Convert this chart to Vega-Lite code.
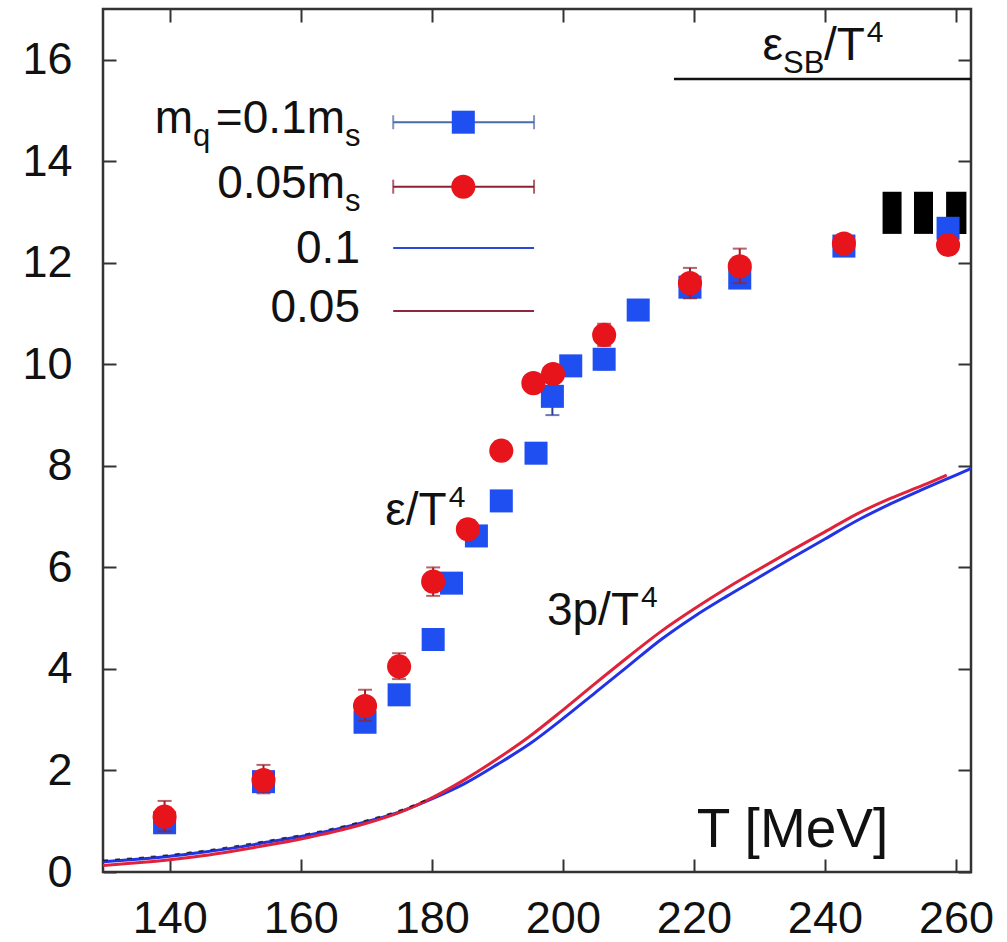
{
  "$schema": "https://vega.github.io/schema/vega-lite/v6.json",
  "width": 868,
  "height": 863,
  "autosize": {"type": "none"},
  "padding": {"left": 103, "top": 9, "right": 36, "bottom": 70},
  "background": "white",
  "config": {
    "view": {"stroke": "#333333", "strokeWidth": 2.5},
    "axis": {"domain": false, "grid": false, "tickColor": "#333333", "tickWidth": 2, "labelFont": "Liberation Sans", "labelFontSize": 45, "labelColor": "#111111", "labelFlush": false, "labelOverlap": false, "labelBound": false, "title": null},
    "text": {"font": "Liberation Sans", "color": "#111111"}
  },
  "datasets": {
    "pts": [
      {"T": 139.2, "v": 0.97, "lo": 0.87, "hi": 1.07, "s": "b"},
      {"T": 154.3, "v": 1.78, "lo": 1.66, "hi": 1.90, "s": "b"},
      {"T": 169.8, "v": 2.95, "lo": 2.80, "hi": 3.10, "s": "b"},
      {"T": 175.0, "v": 3.49, "lo": 3.39, "hi": 3.59, "s": "b"},
      {"T": 180.2, "v": 4.58, "lo": 4.50, "hi": 4.66, "s": "b"},
      {"T": 183.0, "v": 5.69, "lo": 5.61, "hi": 5.77, "s": "b"},
      {"T": 186.8, "v": 6.62, "lo": 6.52, "hi": 6.72, "s": "b"},
      {"T": 190.6, "v": 7.31, "lo": 7.23, "hi": 7.39, "s": "b"},
      {"T": 195.9, "v": 8.25, "lo": 8.17, "hi": 8.33, "s": "b"},
      {"T": 198.4, "v": 9.37, "lo": 9.00, "hi": 9.74, "s": "b"},
      {"T": 201.2, "v": 9.97, "lo": 9.87, "hi": 10.07, "s": "b"},
      {"T": 206.3, "v": 10.10, "lo": 9.90, "hi": 10.30, "s": "b"},
      {"T": 211.5, "v": 11.07, "lo": 10.97, "hi": 11.17, "s": "b"},
      {"T": 219.4, "v": 11.52, "lo": 11.32, "hi": 11.72, "s": "b"},
      {"T": 227.0, "v": 11.70, "lo": 11.55, "hi": 11.85, "s": "b"},
      {"T": 242.9, "v": 12.33, "lo": 12.18, "hi": 12.48, "s": "b"},
      {"T": 258.8, "v": 12.68, "lo": 12.48, "hi": 12.88, "s": "b"},
      {"T": 139.2, "v": 1.09, "lo": 0.80, "hi": 1.40, "s": "r"},
      {"T": 154.3, "v": 1.81, "lo": 1.55, "hi": 2.11, "s": "r"},
      {"T": 169.8, "v": 3.27, "lo": 2.98, "hi": 3.59, "s": "r"},
      {"T": 175.0, "v": 4.05, "lo": 3.80, "hi": 4.31, "s": "r"},
      {"T": 180.2, "v": 5.72, "lo": 5.44, "hi": 6.00, "s": "r"},
      {"T": 185.5, "v": 6.75, "lo": 6.57, "hi": 6.93, "s": "r"},
      {"T": 190.6, "v": 8.30, "lo": 8.20, "hi": 8.40, "s": "r"},
      {"T": 195.5, "v": 9.63, "lo": 9.53, "hi": 9.73, "s": "r"},
      {"T": 198.5, "v": 9.81, "lo": 9.71, "hi": 9.91, "s": "r"},
      {"T": 206.3, "v": 10.58, "lo": 10.36, "hi": 10.80, "s": "r"},
      {"T": 219.4, "v": 11.60, "lo": 11.30, "hi": 11.90, "s": "r"},
      {"T": 227.0, "v": 11.93, "lo": 11.60, "hi": 12.28, "s": "r"},
      {"T": 242.9, "v": 12.38, "lo": 12.28, "hi": 12.48, "s": "r"},
      {"T": 258.8, "v": 12.35, "lo": 12.25, "hi": 12.45, "s": "r"}
    ],
    "curves": [
      {"T": 129.8, "v": 0.20, "s": "b"}, {"T": 135, "v": 0.25, "s": "b"}, {"T": 140, "v": 0.31, "s": "b"},
      {"T": 145, "v": 0.39, "s": "b"}, {"T": 150, "v": 0.48, "s": "b"}, {"T": 155, "v": 0.59, "s": "b"},
      {"T": 160, "v": 0.70, "s": "b"}, {"T": 165, "v": 0.83, "s": "b"}, {"T": 170, "v": 0.99, "s": "b"},
      {"T": 175, "v": 1.18, "s": "b"}, {"T": 180, "v": 1.44, "s": "b"}, {"T": 185, "v": 1.74, "s": "b"},
      {"T": 190, "v": 2.12, "s": "b"}, {"T": 195, "v": 2.53, "s": "b"}, {"T": 200, "v": 3.02, "s": "b"},
      {"T": 205, "v": 3.54, "s": "b"}, {"T": 210, "v": 4.06, "s": "b"}, {"T": 215, "v": 4.58, "s": "b"},
      {"T": 220, "v": 5.03, "s": "b"}, {"T": 225, "v": 5.43, "s": "b"}, {"T": 230, "v": 5.81, "s": "b"},
      {"T": 235, "v": 6.19, "s": "b"}, {"T": 240, "v": 6.56, "s": "b"}, {"T": 245, "v": 6.93, "s": "b"},
      {"T": 250, "v": 7.25, "s": "b"}, {"T": 255, "v": 7.54, "s": "b"}, {"T": 260, "v": 7.82, "s": "b"},
      {"T": 262.3, "v": 7.95, "s": "b"},
      {"T": 129.8, "v": 0.13, "s": "r"}, {"T": 135, "v": 0.18, "s": "r"}, {"T": 140, "v": 0.24, "s": "r"},
      {"T": 145, "v": 0.32, "s": "r"}, {"T": 150, "v": 0.42, "s": "r"}, {"T": 155, "v": 0.53, "s": "r"},
      {"T": 160, "v": 0.65, "s": "r"}, {"T": 165, "v": 0.79, "s": "r"}, {"T": 170, "v": 0.96, "s": "r"},
      {"T": 175, "v": 1.17, "s": "r"}, {"T": 180, "v": 1.46, "s": "r"}, {"T": 185, "v": 1.82, "s": "r"},
      {"T": 190, "v": 2.23, "s": "r"}, {"T": 195, "v": 2.68, "s": "r"}, {"T": 200, "v": 3.19, "s": "r"},
      {"T": 205, "v": 3.72, "s": "r"}, {"T": 210, "v": 4.24, "s": "r"}, {"T": 215, "v": 4.74, "s": "r"},
      {"T": 220, "v": 5.18, "s": "r"}, {"T": 225, "v": 5.59, "s": "r"}, {"T": 230, "v": 5.97, "s": "r"},
      {"T": 235, "v": 6.34, "s": "r"}, {"T": 240, "v": 6.70, "s": "r"}, {"T": 245, "v": 7.06, "s": "r"},
      {"T": 250, "v": 7.36, "s": "r"}, {"T": 255, "v": 7.62, "s": "r"}, {"T": 258.6, "v": 7.82, "s": "r"},
      {"T": 129.8, "v": 0.23, "s": "k"}, {"T": 135, "v": 0.28, "s": "k"}, {"T": 140, "v": 0.34, "s": "k"},
      {"T": 145, "v": 0.42, "s": "k"}, {"T": 150, "v": 0.51, "s": "k"}, {"T": 155, "v": 0.62, "s": "k"},
      {"T": 160, "v": 0.73, "s": "k"}, {"T": 165, "v": 0.86, "s": "k"}, {"T": 170, "v": 1.02, "s": "k"},
      {"T": 175, "v": 1.21, "s": "k"}, {"T": 180, "v": 1.47, "s": "k"}
    ],
    "bars": [
      {"T": 248.8, "T2": 251.7, "v": 12.57, "v2": 13.40},
      {"T": 253.6, "T2": 256.5, "v": 12.57, "v2": 13.40},
      {"T": 258.5, "T2": 261.6, "v": 12.57, "v2": 13.40}
    ],
    "sb": [{"T": 216.96, "T2": 262.3, "v": 15.62}],
    "legline": [
      {"T": 174.1, "T2": 195.6, "v": 14.77, "s": "b"},
      {"T": 174.1, "T2": 195.6, "v": 13.50, "s": "r"},
      {"T": 174.1, "T2": 195.6, "v": 12.29, "s": "bl"},
      {"T": 174.1, "T2": 195.6, "v": 11.05, "s": "rl"}
    ],
    "legcap": [
      {"T": 174.1, "v": 14.77, "s": "b"}, {"T": 195.6, "v": 14.77, "s": "b"},
      {"T": 174.1, "v": 13.50, "s": "r"}, {"T": 195.6, "v": 13.50, "s": "r"}
    ],
    "legsym": [
      {"T": 184.8, "v": 14.77, "s": "b"},
      {"T": 184.8, "v": 13.50, "s": "r"}
    ],
    "textMain": [
      {"T": 143.54, "v": 14.55, "t": "m"},
      {"T": 166.74, "v": 14.55, "t": "=0.1m"},
      {"T": 166.74, "v": 13.27, "t": "0.05m"},
      {"T": 169.03, "v": 11.99, "t": "0.1"},
      {"T": 169.03, "v": 10.84, "t": "0.05"},
      {"T": 182.27, "v": 6.84, "t": "ε/T"},
      {"T": 211.62, "v": 4.866, "t": "3p/T"},
      {"T": 233.6, "v": 16.0, "t": "ε"},
      {"T": 246.1, "v": 16.0, "t": "/T"}
    ],
    "textSub": [
      {"T": 143.54, "v": 14.55, "t": "q"},
      {"T": 166.74, "v": 14.55, "t": "s"},
      {"T": 166.74, "v": 13.27, "t": "s"},
      {"T": 233.6, "v": 16.0, "t": "SB"}
    ],
    "textSup": [
      {"T": 182.27, "v": 6.84, "t": "4"},
      {"T": 211.62, "v": 4.866, "t": "4"},
      {"T": 246.1, "v": 16.0, "t": "4"}
    ],
    "textAxis": [{"T": 220.43, "v": 0.50, "t": "T [MeV]"}]
  },
  "resolve": {"axis": {"x": "independent", "y": "independent"}},
  "layer": [
    {
      "data": {"name": "bars"},
      "mark": {"type": "rect", "color": "#000000"},
      "encoding": {
        "x": {"field": "T", "type": "quantitative", "scale": {"domain": [129.8, 262.3], "nice": false, "zero": false},
              "axis": {"orient": "bottom", "values": [140, 160, 180, 200, 220, 240, 260], "tickSize": -13, "labelPadding": 37}},
        "x2": {"field": "T2"},
        "y": {"field": "v", "type": "quantitative", "scale": {"domain": [0, 17], "nice": false, "zero": false},
              "axis": {"orient": "left", "values": [0, 2, 4, 6, 8, 10, 12, 14, 16], "tickSize": -13, "labelPadding": 44}},
        "y2": {"field": "v2"}
      }
    },
    {
      "data": {"name": "sb"},
      "mark": {"type": "rule", "color": "#111111", "strokeWidth": 2.5},
      "encoding": {
        "x": {"field": "T", "type": "quantitative", "scale": {"domain": [129.8, 262.3], "nice": false, "zero": false},
              "axis": {"orient": "top", "values": [140, 160, 180, 200, 220, 240, 260], "tickSize": -13, "labels": false}},
        "x2": {"field": "T2"},
        "y": {"field": "v", "type": "quantitative", "scale": {"domain": [0, 17], "nice": false, "zero": false},
              "axis": {"orient": "right", "values": [0, 2, 4, 6, 8, 10, 12, 14, 16], "tickSize": -13, "labels": false}}
      }
    },
    {
      "data": {"name": "curves"},
      "transform": [{"filter": "datum.s === 'b'"}],
      "mark": {"type": "line", "color": "#2233e6", "strokeWidth": 3, "interpolate": "monotone"},
      "encoding": {
        "x": {"field": "T", "type": "quantitative", "scale": {"domain": [129.8, 262.3], "nice": false, "zero": false}, "axis": null},
        "y": {"field": "v", "type": "quantitative", "scale": {"domain": [0, 17], "nice": false, "zero": false}, "axis": null}
      }
    },
    {
      "data": {"name": "curves"},
      "transform": [{"filter": "datum.s === 'r'"}],
      "mark": {"type": "line", "color": "#e0233a", "strokeWidth": 3, "interpolate": "monotone"},
      "encoding": {
        "x": {"field": "T", "type": "quantitative", "scale": {"domain": [129.8, 262.3], "nice": false, "zero": false}, "axis": null},
        "y": {"field": "v", "type": "quantitative", "scale": {"domain": [0, 17], "nice": false, "zero": false}, "axis": null}
      }
    },
    {
      "data": {"name": "curves"},
      "transform": [{"filter": "datum.s === 'k'"}],
      "mark": {"type": "line", "color": "#111111", "strokeWidth": 1.5, "strokeDash": [5, 7], "opacity": 0.8, "interpolate": "monotone"},
      "encoding": {
        "x": {"field": "T", "type": "quantitative", "scale": {"domain": [129.8, 262.3], "nice": false, "zero": false}, "axis": null},
        "y": {"field": "v", "type": "quantitative", "scale": {"domain": [0, 17], "nice": false, "zero": false}, "axis": null}
      }
    },
    {
      "data": {"name": "pts"},
      "transform": [{"filter": "datum.s === 'b'"}],
      "mark": {"type": "rule", "color": "#2a3f9a", "strokeWidth": 2},
      "encoding": {
        "x": {"field": "T", "type": "quantitative", "scale": {"domain": [129.8, 262.3], "nice": false, "zero": false}, "axis": null},
        "y": {"field": "lo", "type": "quantitative", "scale": {"domain": [0, 17], "nice": false, "zero": false}, "axis": null},
        "y2": {"field": "hi"}
      }
    },
    {
      "data": {"name": "pts"},
      "transform": [{"filter": "datum.s === 'b'"}, {"fold": ["lo", "hi"], "as": ["end", "ev"]}],
      "mark": {"type": "tick", "orient": "horizontal", "color": "#2a3f9a", "size": 14, "thickness": 2},
      "encoding": {
        "x": {"field": "T", "type": "quantitative", "scale": {"domain": [129.8, 262.3], "nice": false, "zero": false}, "axis": null},
        "y": {"field": "ev", "type": "quantitative", "scale": {"domain": [0, 17], "nice": false, "zero": false}, "axis": null}
      }
    },
    {
      "data": {"name": "pts"},
      "transform": [{"filter": "datum.s === 'b'"}],
      "mark": {"type": "point", "shape": "square", "filled": true, "color": "#1f4ff0", "size": 530, "opacity": 1},
      "encoding": {
        "x": {"field": "T", "type": "quantitative", "scale": {"domain": [129.8, 262.3], "nice": false, "zero": false}, "axis": null},
        "y": {"field": "v", "type": "quantitative", "scale": {"domain": [0, 17], "nice": false, "zero": false}, "axis": null}
      }
    },
    {
      "data": {"name": "pts"},
      "transform": [{"filter": "datum.s === 'r'"}],
      "mark": {"type": "rule", "color": "#9a1f2a", "strokeWidth": 2},
      "encoding": {
        "x": {"field": "T", "type": "quantitative", "scale": {"domain": [129.8, 262.3], "nice": false, "zero": false}, "axis": null},
        "y": {"field": "lo", "type": "quantitative", "scale": {"domain": [0, 17], "nice": false, "zero": false}, "axis": null},
        "y2": {"field": "hi"}
      }
    },
    {
      "data": {"name": "pts"},
      "transform": [{"filter": "datum.s === 'r'"}, {"fold": ["lo", "hi"], "as": ["end", "ev"]}],
      "mark": {"type": "tick", "orient": "horizontal", "color": "#9a1f2a", "size": 14, "thickness": 2},
      "encoding": {
        "x": {"field": "T", "type": "quantitative", "scale": {"domain": [129.8, 262.3], "nice": false, "zero": false}, "axis": null},
        "y": {"field": "ev", "type": "quantitative", "scale": {"domain": [0, 17], "nice": false, "zero": false}, "axis": null}
      }
    },
    {
      "data": {"name": "pts"},
      "transform": [{"filter": "datum.s === 'r'"}],
      "mark": {"type": "point", "shape": "circle", "filled": true, "color": "#e8141c", "size": 580, "opacity": 1},
      "encoding": {
        "x": {"field": "T", "type": "quantitative", "scale": {"domain": [129.8, 262.3], "nice": false, "zero": false}, "axis": null},
        "y": {"field": "v", "type": "quantitative", "scale": {"domain": [0, 17], "nice": false, "zero": false}, "axis": null}
      }
    },
    {
      "data": {"name": "legline"},
      "mark": {"type": "rule", "strokeWidth": 2},
      "encoding": {
        "x": {"field": "T", "type": "quantitative", "scale": {"domain": [129.8, 262.3], "nice": false, "zero": false}, "axis": null},
        "x2": {"field": "T2"},
        "y": {"field": "v", "type": "quantitative", "scale": {"domain": [0, 17], "nice": false, "zero": false}, "axis": null},
        "color": {"field": "s", "type": "nominal", "legend": null,
                  "scale": {"domain": ["b", "r", "bl", "rl"], "range": ["#4a6aa8", "#8a2030", "#2a48d8", "#8a2a3c"]}},
        "strokeWidth": {"field": "s", "type": "nominal", "legend": null,
                  "scale": {"domain": ["b", "r", "bl", "rl"], "range": [2, 2, 3.5, 3]}}
      }
    },
    {
      "data": {"name": "legcap"},
      "mark": {"type": "tick", "orient": "vertical", "size": 14, "thickness": 2},
      "encoding": {
        "x": {"field": "T", "type": "quantitative", "scale": {"domain": [129.8, 262.3], "nice": false, "zero": false}, "axis": null},
        "y": {"field": "v", "type": "quantitative", "scale": {"domain": [0, 17], "nice": false, "zero": false}, "axis": null},
        "color": {"field": "s", "type": "nominal", "legend": null,
                  "scale": {"domain": ["b", "r", "bl", "rl"], "range": ["#4a6aa8", "#8a2030", "#2a48d8", "#8a2a3c"]}}
      }
    },
    {
      "data": {"name": "legsym"},
      "transform": [{"filter": "datum.s === 'b'"}],
      "mark": {"type": "point", "shape": "square", "filled": true, "color": "#1f4ff0", "size": 530, "opacity": 1},
      "encoding": {
        "x": {"field": "T", "type": "quantitative", "scale": {"domain": [129.8, 262.3], "nice": false, "zero": false}, "axis": null},
        "y": {"field": "v", "type": "quantitative", "scale": {"domain": [0, 17], "nice": false, "zero": false}, "axis": null}
      }
    },
    {
      "data": {"name": "legsym"},
      "transform": [{"filter": "datum.s === 'r'"}],
      "mark": {"type": "point", "shape": "circle", "filled": true, "color": "#e8141c", "size": 580, "opacity": 1},
      "encoding": {
        "x": {"field": "T", "type": "quantitative", "scale": {"domain": [129.8, 262.3], "nice": false, "zero": false}, "axis": null},
        "y": {"field": "v", "type": "quantitative", "scale": {"domain": [0, 17], "nice": false, "zero": false}, "axis": null}
      }
    },
    {
      "data": {"name": "textMain"},
      "mark": {"type": "text", "align": "right", "baseline": "alphabetic", "fontSize": 46},
      "encoding": {
        "x": {"field": "T", "type": "quantitative", "scale": {"domain": [129.8, 262.3], "nice": false, "zero": false}, "axis": null},
        "y": {"field": "v", "type": "quantitative", "scale": {"domain": [0, 17], "nice": false, "zero": false}, "axis": null},
        "text": {"field": "t"}
      }
    },
    {
      "data": {"name": "textSub"},
      "mark": {"type": "text", "align": "left", "baseline": "alphabetic", "fontSize": 31, "dy": 13},
      "encoding": {
        "x": {"field": "T", "type": "quantitative", "scale": {"domain": [129.8, 262.3], "nice": false, "zero": false}, "axis": null},
        "y": {"field": "v", "type": "quantitative", "scale": {"domain": [0, 17], "nice": false, "zero": false}, "axis": null},
        "text": {"field": "t"}
      }
    },
    {
      "data": {"name": "textSup"},
      "mark": {"type": "text", "align": "left", "baseline": "alphabetic", "fontSize": 30, "dy": -18, "dx": 2},
      "encoding": {
        "x": {"field": "T", "type": "quantitative", "scale": {"domain": [129.8, 262.3], "nice": false, "zero": false}, "axis": null},
        "y": {"field": "v", "type": "quantitative", "scale": {"domain": [0, 17], "nice": false, "zero": false}, "axis": null},
        "text": {"field": "t"}
      }
    },
    {
      "data": {"name": "textAxis"},
      "mark": {"type": "text", "align": "left", "baseline": "alphabetic", "fontSize": 55},
      "encoding": {
        "x": {"field": "T", "type": "quantitative", "scale": {"domain": [129.8, 262.3], "nice": false, "zero": false}, "axis": null},
        "y": {"field": "v", "type": "quantitative", "scale": {"domain": [0, 17], "nice": false, "zero": false}, "axis": null},
        "text": {"field": "t"}
      }
    }
  ]
}
